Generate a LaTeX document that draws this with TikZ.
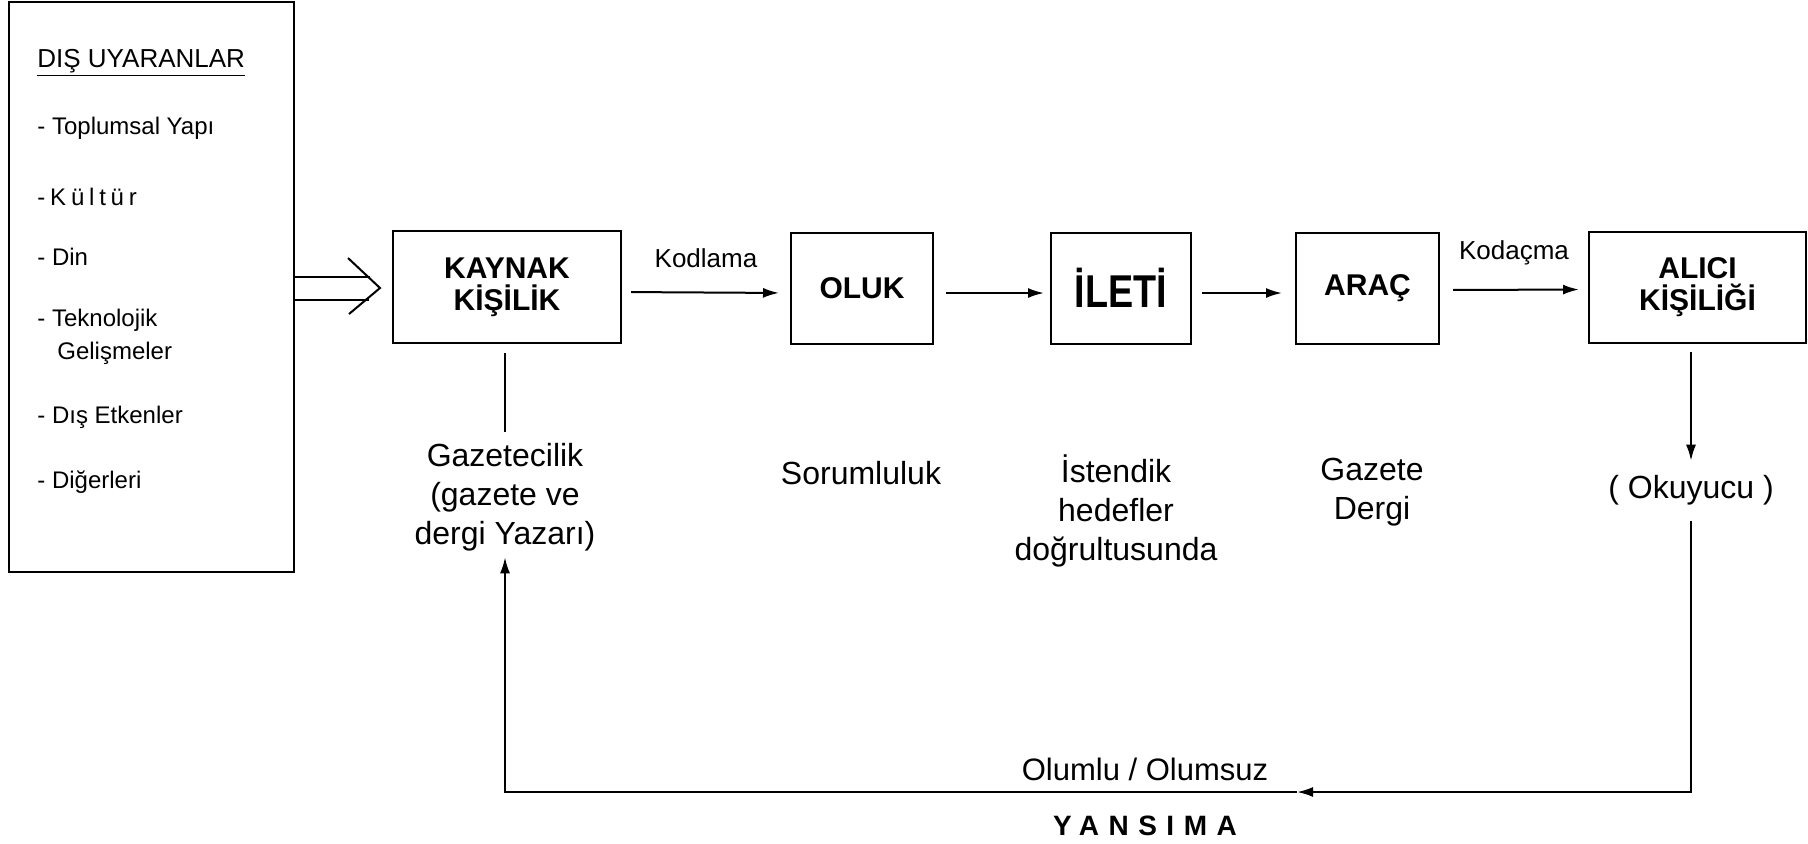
\documentclass[tikz,border=0pt]{standalone}
\usepackage{fontspec}
\setmainfont{Liberation Sans}
\usetikzlibrary{arrows.meta}

\tikzset{
  kutu/.style={draw, line width=1pt, align=center, inner sep=0pt,
    font=\fontsize{15}{16}\selectfont\bfseries},
  ok/.style={-{Latex[length=8pt, width=5pt]}, line width=1pt},
  yazi/.style={align=center, inner sep=0pt, font=\fontsize{16}{19.5}\selectfont},
  madde/.style={anchor=west, inner sep=0pt, font=\fontsize{12}{14}\selectfont},
  etiket/.style={inner sep=0pt, font=\fontsize{13}{15}\selectfont},
}

\begin{document}
\begin{tikzpicture}[x=0.5pt, y=-0.5pt]
  \useasboundingbox (0,0) rectangle (1808,843);

  % dis uyaranlar
  \node[draw, line width=1pt, minimum width=142.5pt, minimum height=285pt] (dis) at (151.5,287) {};
  \node[madde, font=\fontsize{13}{15}\selectfont] (baslik) at (37,63) {\underline{DIŞ UYARANLAR}};
  \node[madde] (yapi) at (37,128) {- Toplumsal Yapı};
  \node[madde, font=\fontsize{12}{14}\selectfont\addfontfeature{LetterSpace=20}] (kultur) at (37,197) {-Kültür};
  \node[madde] (din) at (37,257) {- Din};
  \node[madde] (tekno) at (37,320) {- Teknolojik};
  \node[madde] (gelisme) at (57,353) {Gelişmeler};
  \node[madde] (etken) at (37,417) {- Dış Etkenler};
  \node[madde] (diger) at (37,482) {- Diğerleri};

  % kutular
  \node[kutu, minimum width=114pt, minimum height=56pt] (kaynak) at (507,287) {KAYNAK\\KİŞİLİK};
  \node[kutu, minimum width=71pt, minimum height=55.5pt] (oluk) at (862,288) {OLUK};
  \node[kutu, minimum width=70pt, minimum height=55.5pt, font=\fontsize{23}{24}\selectfont\bfseries] (ileti) at (1121,288) {\scalebox{0.82}[1]{İLETİ}};
  \node[kutu, minimum width=71.5pt, minimum height=55.5pt] (arac) at (1367.5,288) {ARAÇ};
  \node[kutu, minimum width=108.5pt, minimum height=55.5pt] (alici) at (1697.5,287.5) {ALICI\\KİŞİLİĞİ};

  % cift ok
  \coordinate (c1) at (0,277);
  \coordinate (c2) at (0,300);
  \coordinate (uc) at (380,288);
  \draw[line width=1pt] (dis.east |- c1) -- (370,277);
  \draw[line width=1pt] (dis.east |- c2) -- (369,300);
  \draw[line width=1pt] (348,258) -- (uc) -- (349,314);

  % oklar
  \draw[ok, shorten <=4.5pt, shorten >=5.5pt] ([yshift=-2.5pt]kaynak.east) -- node[etiket, above=12pt] (kodlama) {Kodlama} ([yshift=-2.5pt]oluk.west);
  \draw[ok, shorten <=6pt, shorten >=3pt] ([yshift=-2.5pt]oluk.east) -- ([yshift=-2.5pt]ileti.west);
  \draw[ok, shorten <=5pt, shorten >=6.5pt] ([yshift=-2.5pt]ileti.east) -- ([yshift=-2.5pt]arac.west);
  \draw[ok, shorten <=6.5pt, shorten >=4.5pt] ([yshift=-1pt]arac.east) -- node[etiket, above=12pt] (kodacma) {Kodaçma} ([yshift=-1pt]alici.west);

  % alt yazilar
  \node[yazi] (gazetecilik) at (505,497) {Gazetecilik\\(gazete ve\\dergi Yazarı)};
  \node[yazi] (sorumluluk) at (861,473) {Sorumluluk};
  \node[yazi] (istendik) at (1116,511) {İstendik\\hedefler\\doğrultusunda};
  \node[yazi] (gazete) at (1372,492) {Gazete\\Dergi};
  \node[yazi] (okuyucu) at (1691,490) {( Okuyucu )};

  \draw[line width=1pt, shorten <=4.5pt, shorten >=5.5pt] (kaynak.south -| gazetecilik) -- (gazetecilik.north);
  \draw[ok, shorten <=4pt, shorten >=7pt] (alici.south -| okuyucu.north) -- (okuyucu.north);

  % yansima
  \coordinate (donus) at (1297,792);
  \draw[ok, shorten <=8pt] (okuyucu.south) |- (donus);
  \draw[ok, shorten >=3pt] (donus) -| (gazetecilik.south);
  \node[yazi, font=\fontsize{15.5}{17}\selectfont] (olumlu) at (1145,769) {Olumlu / Olumsuz};
  \node[yazi, font=\fontsize{14}{16}\selectfont\bfseries\addfontfeature{LetterSpace=34}] (yansima) at (1145,826) {YANSIMA};
\end{tikzpicture}
\end{document}
